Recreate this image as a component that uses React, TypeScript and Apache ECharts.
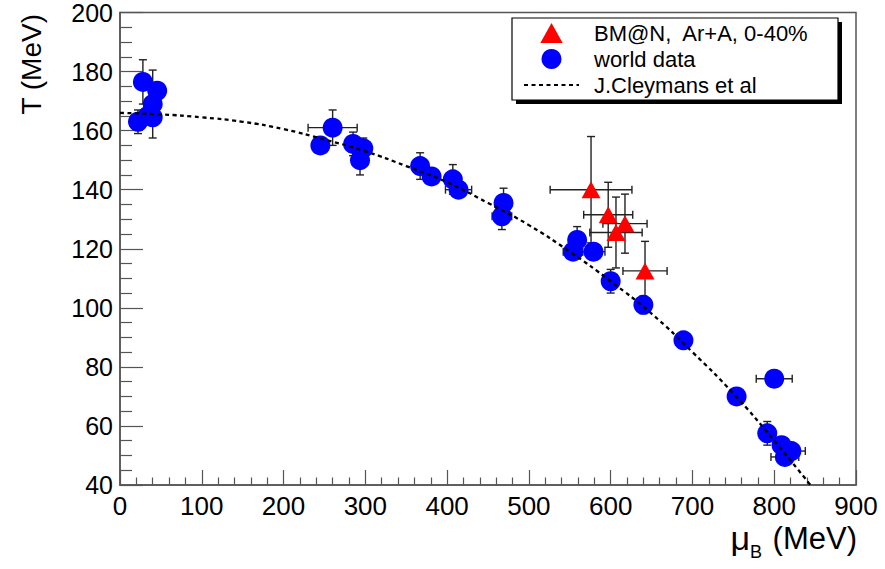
import React, { useEffect, useRef } from "react";
import * as echarts from "echarts";

// World data (mu_B, T) with errors
const worldMu = [28, 45.5, 40, 34, 22, 40, 260, 245, 285, 297.5, 293.5, 367, 381, 407, 414, 469, 467, 559, 554, 579, 600, 640, 689, 800, 754, 791.5, 809, 821, 813];
const worldT = [176.5, 173.5, 169, 165, 163, 164.5, 161, 155, 155.5, 154, 150, 148, 144.5, 143.5, 140, 135.5, 131, 123, 119, 119, 109, 101, 89, 76, 70, 57.5, 53.5, 51.5, 49.5];
const worldMuErr = [0, 0, 0, 0, 0, 0, 30, 0, 0, 0, 0, 0, 0, 0, 16, 0, 12, 0, 12, 14, 0, 0, 0, 22, 0, 0, 0, 17, 17];
const worldTErr = [7.5, 0, 11.5, 0, 4, 0, 6, 0, 4, 3.5, 5, 4.5, 0, 5, 0, 5, 4.5, 4.5, 0, 0, 4, 3, 0, 0, 0, 4, 0, 0, 0];

// BM@N Ar+A 0-40%
const bmnMu = [576, 597, 617.5, 606.5, 642];
const bmnT = [140, 131.5, 128.5, 125.5, 112.5];
const bmnMuErr = [50, 30, 27, 32, 27];
const bmnTErr = [18, 11, 10, 12, 10];

// J.Cleymans et al curve
const curveMu = [0, 50, 100, 150, 200, 250, 300, 350, 400, 450, 500, 550, 600, 650, 700, 750, 800, 850];
const curveT = [166, 165.5, 164.5, 163, 160.5, 157, 153, 148, 142.5, 135.5, 128, 119, 109, 98, 85, 71, 55, 38];

const xTicks = [0, 100, 200, 300, 400, 500, 600, 700, 800, 900];
const yTicks = [40, 60, 80, 100, 120, 140, 160, 180, 200];

const SANS = "'Liberation Sans', Arial, Helvetica, sans-serif";
const TRI = "path://M9.5,0 L19,17 L0,17 Z";

function errItem(params: any, api: any) {
  const x = api.value(0);
  const y = api.value(1);
  const dx = api.value(2);
  const dy = api.value(3);
  const cap = 4;
  const style = { stroke: "#222", lineWidth: 1.4 };
  const children: any[] = [];
  if (dx > 0) {
    const l = api.coord([x - dx, y]);
    const r = api.coord([x + dx, y]);
    children.push({ type: "line", shape: { x1: l[0], y1: l[1], x2: r[0], y2: r[1] }, style });
    children.push({ type: "line", shape: { x1: l[0], y1: l[1] - cap, x2: l[0], y2: l[1] + cap }, style });
    children.push({ type: "line", shape: { x1: r[0], y1: r[1] - cap, x2: r[0], y2: r[1] + cap }, style });
  }
  if (dy > 0) {
    const t = api.coord([x, y + dy]);
    const b = api.coord([x, y - dy]);
    children.push({ type: "line", shape: { x1: t[0], y1: t[1], x2: b[0], y2: b[1] }, style });
    children.push({ type: "line", shape: { x1: t[0] - cap, y1: t[1], x2: t[0] + cap, y2: t[1] }, style });
    children.push({ type: "line", shape: { x1: b[0] - cap, y1: b[1], x2: b[0] + cap, y2: b[1] }, style });
  }
  return { type: "group", children };
}

export default function App() {
  const ref = useRef<HTMLDivElement>(null);
  useEffect(() => {
    if (!ref.current) return;
    const chart = echarts.init(ref.current, null, { renderer: "svg" });
    const errData: number[][] = [];
    worldMu.forEach((m, i) => errData.push([m, worldT[i], worldMuErr[i], worldTErr[i]]));
    bmnMu.forEach((m, i) => errData.push([m, bmnT[i], bmnMuErr[i], bmnTErr[i]]));

    const option: any = {
      animation: false,
      backgroundColor: "#fff",
      grid: { left: 120, top: 12, width: 736, height: 473, show: true, borderColor: "#555", borderWidth: 1.5, backgroundColor: "transparent" },
      xAxis: {
        type: "value", min: 0, max: 900, interval: 100,
        axisLine: { show: true, lineStyle: { color: "#555", width: 1.5 } },
        axisTick: { show: true, inside: true, length: 15, lineStyle: { color: "#555", width: 1.2 } },
        minorTick: { show: true, splitNumber: 5, length: 7.5, lineStyle: { color: "#555", width: 1.2 } },
        splitLine: { show: false },
        axisLabel: { color: "#000", fontFamily: SANS, fontSize: 26, margin: 8, formatter: (v: number) => (xTicks.includes(v) ? String(v) : "") },
      },
      yAxis: {
        type: "value", min: 40, max: 200, interval: 20,
        axisLine: { show: true, lineStyle: { color: "#555", width: 1.5 } },
        axisTick: { show: true, inside: true, length: 23, lineStyle: { color: "#555", width: 1.2 } },
        minorTick: { show: true, splitNumber: 4, length: 12, lineStyle: { color: "#555", width: 1.2 } },
        splitLine: { show: false },
        axisLabel: { color: "#000", fontFamily: SANS, fontSize: 25, lineHeight: 24, margin: 7, formatter: (v: number) => (yTicks.includes(v) ? String(v) : "") },
      },
      legend: {
        left: 523, top: 22, orient: "vertical", padding: 0,
        itemWidth: 55, itemHeight: 20, itemGap: 4,
        backgroundColor: "transparent",
        textStyle: { fontFamily: SANS, fontSize: 22, color: "#000", lineHeight: 20, padding: [0, 0, 0, 10] },
        data: [
          { name: "BM@N,  Ar+A, 0-40%", icon: TRI },
          { name: "world data", icon: "circle" },
          { name: "J.Cleymans et al", itemStyle: { color: "rgba(0,0,0,0)", borderColor: "rgba(0,0,0,0)", borderWidth: 0 } },
        ],
        selectedMode: false,
      },
      graphic: [
        { type: "rect", shape: { x: 516, y: 22, width: 326, height: 82 }, style: { fill: "#000" }, z: 1 },
        { type: "rect", shape: { x: 512, y: 18, width: 326, height: 82 }, style: { fill: "#fff", stroke: "#000", lineWidth: 1.2 }, z: 1 },
        { type: "text", x: 31, y: 14, rotation: Math.PI / 2, style: { text: "T (MeV)", fontFamily: SANS, fontSize: 28, fill: "#000", align: "right", verticalAlign: "middle" }, z: 5 },
        {
          type: "text", x: 857, y: 538,
          style: {
            text: "{mu|μ}{sub|B} {t|(MeV)}",
            align: "right", verticalAlign: "middle", fill: "#000",
            rich: {
              mu: { fontFamily: SANS, fontSize: 34, fill: "#000" },
              sub: { fontFamily: SANS, fontSize: 18, fill: "#000", padding: [27, 2, 0, 0] },
              t: { fontFamily: SANS, fontSize: 31, fill: "#000" },
            },
            fontFamily: SANS, fontSize: 31,
          },
          z: 5,
        },
      ],
      series: [
        { type: "custom", name: "err", renderItem: errItem, data: errData, z: 2, silent: true, encode: { x: 0, y: 1 } },
        {
          type: "scatter", name: "world data", data: worldMu.map((m, i) => [m, worldT[i]]),
          symbol: "circle", symbolSize: 20, itemStyle: { color: "#0000ff", opacity: 1 }, z: 3,
        },
        {
          type: "line", name: "J.Cleymans et al", data: curveMu.map((m, i) => [m, curveT[i]]),
          smooth: true, symbol: "none", showSymbol: false,
          lineStyle: { color: "#000", width: 2.3, type: [4, 3.5] }, z: 4,
        },
        {
          type: "scatter", name: "BM@N,  Ar+A, 0-40%", data: bmnMu.map((m, i) => [m, bmnT[i]]),
          symbol: "triangle", symbolSize: [19, 17], itemStyle: { color: "#ff0000", opacity: 1 }, z: 5,
        },
      ],
    };
    chart.setOption(option);
    return () => chart.dispose();
  }, []);
  return <div ref={ref} style={{ width: 885, height: 569, position: "absolute", left: 0, top: 0 }} />;
}
